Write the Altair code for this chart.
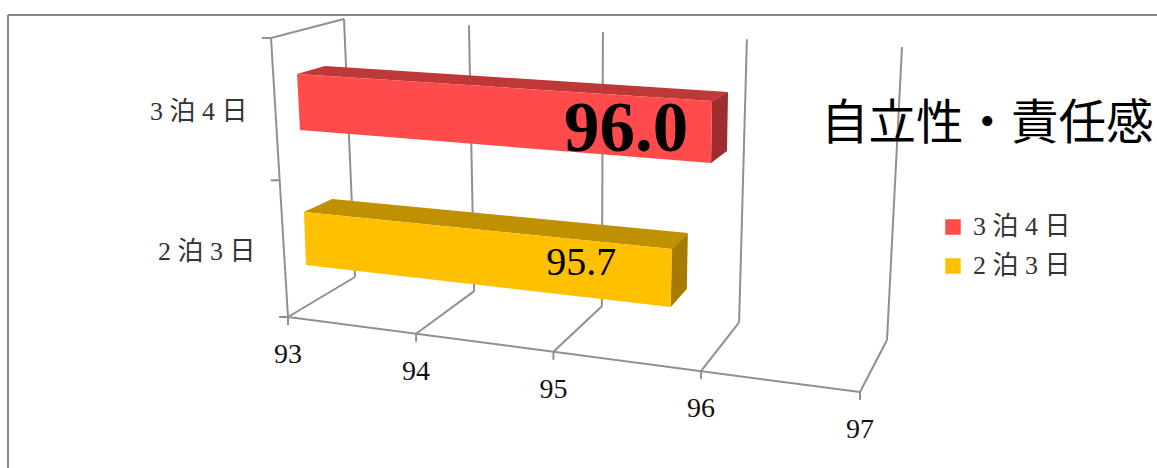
import altair as alt
import pandas as pd

# Series shown in the chart
categories = ["3 泊 4 日", "2 泊 3 日"]
values = [96.0, 95.7]
face_colors = ["#FF4B4B", "#FFC000"]
top_colors = ["#BF3838", "#BF9000"]
end_colors = ["#A02D2D", "#A67C00"]
value_font_sizes = [71, 40]
value_offsets = [(-85, -11.5), (-89.5, -32)]
value_ticks = [93, 94, 95, 96, 97]
chart_title = "自立性・責任感"

W, H = 1157, 468
SERIF = "Liberation Serif, Noto Sans CJK JP"
LINE = "#909090"
DOMAIN_MIN, DOMAIN_MAX = 93, 97
FORESHORTEN = 1.155

# 3D box of the plot, as projected corners
FLOOR_FRONT = ((288, 317), (860, 392))
FLOOR_BACK = ((355, 277), (887, 340))
WALL_TOP = ((344, 19), (902, 47))
SIDE_TOP_FRONT = (271, 38)
SIDE_TICK_FRACTIONS = [0.0, 0.49, 1.0]

# Projected edges of each bar's lane, from the 93 end to the 97 end
LANES = [
    {
        "ft": ((297, 74), (871.8, 111.4)),
        "fb": ((300, 130), (869.3, 175.7)),
        "bt": ((325, 66), (883.2, 102)),
        "bb": ((328, 122), (880.6, 162.2)),
    },
    {
        "ft": ((304, 212), (876.3, 269.5)),
        "fb": ((306, 265), (873.6, 330.3)),
        "bt": ((332, 199), (885.7, 251.9)),
        "bb": ((334, 252), (883.0, 309.5)),
    },
]
CATEGORY_LABEL_POS = [(150, 120), (158, 260)]


def depth(v):
    """Perspective position of a value along the value axis, 0..1."""
    t = (v - DOMAIN_MIN) / (DOMAIN_MAX - DOMAIN_MIN)
    return t / (t + (1 - t) * FORESHORTEN)


def along(edge, v):
    s = depth(v)
    (x0, y0), (x1, y1) = edge
    return (x0 + (x1 - x0) * s, y0 + (y1 - y0) * s)


def polygon(points, **props):
    ring = [list(p) for p in points]
    ring.append(ring[0])
    return {
        "type": "Feature",
        "geometry": {"type": "Polygon", "coordinates": [ring]},
        "properties": props,
    }


front_faces, shaded_faces, value_rows = [], [], []
for i, (name, v) in enumerate(zip(categories, values)):
    lane = LANES[i]
    ft0, fb0, bt0 = lane["ft"][0], lane["fb"][0], lane["bt"][0]
    ft, fb, bt, bb = (along(lane[k], v) for k in ("ft", "fb", "bt", "bb"))
    front_faces.append(polygon([ft0, ft, fb, fb0], series=name))
    shaded_faces.append(polygon([ft0, bt0, bt, ft], shade=top_colors[i]))
    shaded_faces.append(polygon([ft, bt, bb, fb], shade=end_colors[i]))
    dx, dy = value_offsets[i]
    value_rows.append(
        {
            "x": fb[0] + dx,
            "y": fb[1] + dy,
            "label": f"{v:.1f}",
            "size": value_font_sizes[i],
            "weight": "bold" if i == 0 else "normal",
        }
    )

# Wall, floor and tick segments
segments = []


def seg(a, b):
    segments.append({"x": a[0], "y": a[1], "x2": b[0], "y2": b[1]})


tick_rows = []
for tick in value_ticks:
    f, b, t = along(FLOOR_FRONT, tick), along(FLOOR_BACK, tick), along(WALL_TOP, tick)
    seg(f, b)
    seg(b, t)
    seg(f, (f[0], f[1] + 8))
    tick_rows.append({"x": f[0], "y": f[1] + 46, "label": str(tick)})
seg(FLOOR_FRONT[0], FLOOR_FRONT[1])
seg(FLOOR_FRONT[0], SIDE_TOP_FRONT)
seg(SIDE_TOP_FRONT, WALL_TOP[0])
for frac in SIDE_TICK_FRACTIONS:
    x = FLOOR_FRONT[0][0] + (SIDE_TOP_FRONT[0] - FLOOR_FRONT[0][0]) * frac
    y = FLOOR_FRONT[0][1] + (SIDE_TOP_FRONT[1] - FLOOR_FRONT[0][1]) * frac
    seg((x - 9, y), (x, y))

x_scale = alt.Scale(domain=[0, W], range=[0, W], nice=False)
y_scale = alt.Scale(domain=[0, H], range=[0, H], nice=False)
X = alt.X("x:Q", scale=x_scale, axis=None)
Y = alt.Y("y:Q", scale=y_scale, axis=None)

frame = (
    alt.Chart(pd.DataFrame([
        {"x": 8, "y": 15, "x2": W, "y2": 15},
        {"x": 8, "y": 15, "x2": 8, "y2": H},
    ]))
    .mark_rule(color="#868686", strokeWidth=2)
    .encode(X, Y, x2="x2:Q", y2="y2:Q")
)

grid = (
    alt.Chart(pd.DataFrame(segments))
    .mark_rule(color=LINE, strokeWidth=2)
    .encode(X, Y, x2="x2:Q", y2="y2:Q")
)

projection = dict(type="identity", scale=1, translate=[0, 0])

shaded = (
    alt.Chart(alt.Data(values=shaded_faces))
    .mark_geoshape(strokeWidth=0)
    .encode(fill=alt.Fill("properties.shade:N", scale=None, legend=None))
    .project(**projection)
)

front = (
    alt.Chart(alt.Data(values=front_faces))
    .mark_geoshape(strokeWidth=0)
    .encode(
        color=alt.Color(
            "properties.series:N",
            scale=alt.Scale(domain=categories, range=face_colors),
            legend=alt.Legend(
                orient="none",
                legendX=940,
                legendY=214,
                title=None,
                symbolType="square",
                symbolSize=240,
                symbolStrokeWidth=0,
                labelFont=SERIF,
                labelFontSize=26,
                labelColor="#333333",
                labelOffset=7,
                rowPadding=13,
            ),
        )
    )
    .project(**projection)
)

tick_labels = (
    alt.Chart(pd.DataFrame(tick_rows))
    .mark_text(font=SERIF, fontSize=28, color="#111111", baseline="alphabetic", align="center")
    .encode(X, Y, text="label:N")
)

category_labels = (
    alt.Chart(pd.DataFrame({
        "x": [p[0] for p in CATEGORY_LABEL_POS],
        "y": [p[1] for p in CATEGORY_LABEL_POS],
        "label": categories,
    }))
    .mark_text(font=SERIF, fontSize=26, color="#333333", baseline="alphabetic", align="left")
    .encode(X, Y, text="label:N")
)

value_labels = alt.layer(*[
    alt.Chart(pd.DataFrame([row]))
    .mark_text(
        font="Liberation Serif",
        fontSize=row["size"],
        fontWeight=row["weight"],
        color="#000000",
        baseline="alphabetic",
        align="center",
    )
    .encode(X, Y, text="label:N")
    for row in value_rows
])

chart = (
    alt.layer(frame, grid, shaded, front, tick_labels, category_labels, value_labels)
    .resolve_scale(fill="independent", color="independent")
    .properties(
        width=W,
        height=H,
        padding=0,
        background="white",
        autosize=alt.AutoSizeParams(type="none"),
        title=alt.TitleParams(
            text=chart_title,
            anchor="start",
            frame="group",
            dx=821,
            dy=152,
            font="Noto Sans CJK JP",
            fontSize=47.5,
            fontWeight="normal",
            color="#000000",
        ),
    )
    .configure_view(stroke=None)
)

chart.save("out.html", embed_options={"renderer": "svg", "actions": False})
